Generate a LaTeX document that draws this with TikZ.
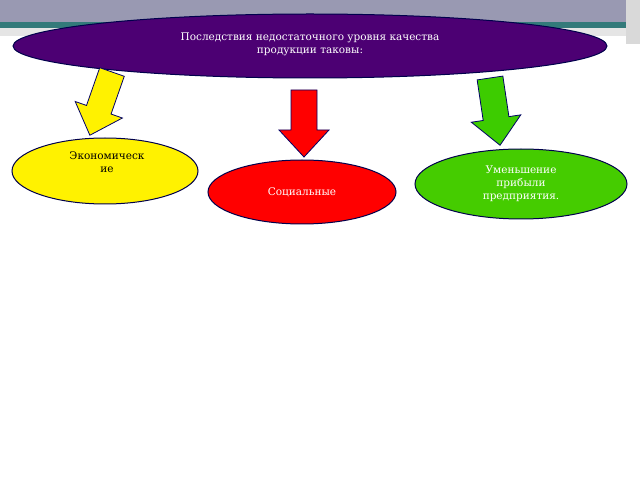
\documentclass[tikz,border=0pt]{standalone}
\usepackage{fontspec}
\setmainfont{DejaVu Serif}
\usetikzlibrary{shapes.geometric}
\begin{document}
\begin{tikzpicture}[x=1pt,y=1pt,
  ell/.style={draw=black!70!blue,line width=1pt,ellipse},
  barrow/.style={draw=black!60!blue,line width=0.8pt},
  txt/.style={font=\fontsize{10.5}{13}\selectfont,align=center}]
\useasboundingbox (0,0) rectangle (640,480);
\fill[white] (0,0) rectangle (640,480);
\fill[black!10] (0,444) rectangle (640,452);
\fill[teal!70!black!80] (0,452) rectangle (640,458);
\fill[black!75!blue!40] (0,458) rectangle (640,480);
\fill[black!15] (626,436) rectangle (640,480);
\newcommand{\blkarrow}[4]{%
  \begin{scope}[shift={(#1)},rotate=#2]
  \draw[barrow,fill=#4] (0,13) -- (#3-27,13) -- (#3-27,25) -- (#3,0) -- (#3-27,-25) -- (#3-27,-13) -- (0,-13) -- cycle;
  \end{scope}}
\node[ell,fill=violet!80!blue!75!black,minimum width=594,minimum height=64] (top) at (310,434) {};
\node[txt,text=white] (toptext) at (310,436) {Последствия недостаточного уровня качества\\продукции таковы:};
\blkarrow{112,408}{250.7}{67}{yellow}
\blkarrow{304,390}{270}{67}{red}
\blkarrow{490,402}{278.5}{68}{green!60!lime!80!black}
\node[ell,fill=yellow,minimum width=186,minimum height=66] (eco) at (105,309) {};
\node[txt] (ecotext) at (107,318) {Экономическ\\ие};
\node[ell,fill=red,minimum width=188,minimum height=64] (soc) at (302,288) {};
\node[txt,text=white] (soctext) at (302,288) {Социальные};
\node[ell,fill=green!55!lime!80!black,minimum width=212,minimum height=70] (prof) at (521,296) {};
\node[txt,text=white] (proftext) at (521,296) {Уменьшение\\прибыли\\предприятия.};
\end{tikzpicture}
\end{document}
